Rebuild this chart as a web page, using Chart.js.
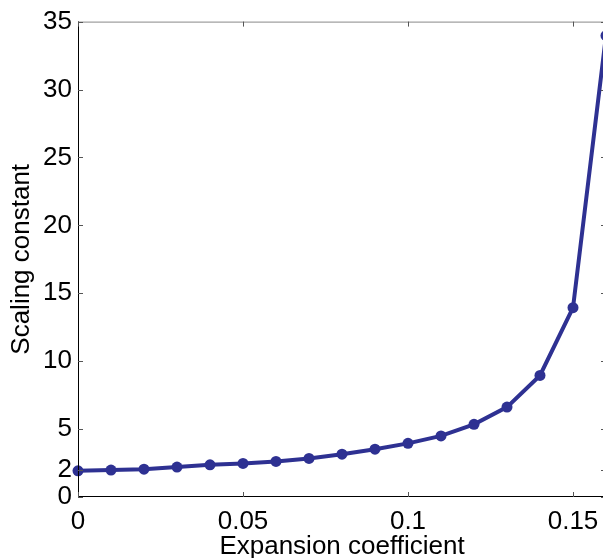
<!DOCTYPE html>
<html><head><meta charset="utf-8">
<script src="https://cdn.jsdelivr.net/npm/chart.js@4/dist/chart.umd.min.js"></script>
<style>html,body{margin:0;padding:0;overflow:hidden;background:#fff;width:603px;height:558px}
#wrap{position:absolute;left:0;top:0;width:612px;height:572px}</style>
</head><body><div id="wrap"><canvas id="c" width="612" height="572"></canvas></div>
<script>
const xValues = [0,0.01,0.02,0.03,0.04,0.05,0.06,0.07,0.08,0.09,0.1,0.11,0.12,0.13,0.14,0.15,0.16];
const yValues = [1.93,1.98,2.05,2.2,2.37,2.47,2.62,2.84,3.15,3.52,3.95,4.5,5.35,6.62,8.95,13.94,33.97];
const xTicks = [0,0.05,0.1,0.15];
const xTickLabels = ['0','0.05','0.1','0.15'];
const yTicks = [0,2,5,10,15,20,25,30,35];
const FONT = 'Liberation Sans, Arial, Helvetica, sans-serif';

const frame = {
  id:'frame',
  afterDraw(chart){
    const {ctx, chartArea:a, scales:{x,y}} = chart;
    ctx.save();
    ctx.lineWidth = 1;
    ctx.strokeStyle = '#888';
    ctx.beginPath();
    ctx.moveTo(a.left, a.top+0.5); ctx.lineTo(a.right, a.top+0.5);
    ctx.moveTo(a.right-0.5, a.top); ctx.lineTo(a.right-0.5, a.bottom);
    ctx.stroke();
    ctx.strokeStyle = '#000';
    ctx.beginPath();
    ctx.moveTo(a.left+0.5, a.top); ctx.lineTo(a.left+0.5, a.bottom);
    ctx.moveTo(a.left, a.bottom-0.5); ctx.lineTo(a.right, a.bottom-0.5);
    ctx.stroke();
    ctx.strokeStyle = '#555';
    ctx.beginPath();
    const L = 5;
    yTicks.forEach(v=>{
      const py = Math.round(y.getPixelForValue(v))+0.5;
      ctx.moveTo(a.left, py); ctx.lineTo(a.left+L, py);
      ctx.moveTo(a.right, py); ctx.lineTo(a.right-L, py);
    });
    xTicks.forEach(v=>{
      const px = Math.round(x.getPixelForValue(v))+0.5;
      ctx.moveTo(px, a.bottom); ctx.lineTo(px, a.bottom-L);
      ctx.moveTo(px, a.top); ctx.lineTo(px, a.top+L);
    });
    ctx.stroke();
    ctx.restore();
  }
};

new Chart(document.getElementById('c'), {
  type:'line',
  data:{datasets:[{
    data: xValues.map((v,i)=>({x:v,y:yValues[i]})),
    borderColor:'#2E3192', backgroundColor:'#2E3192',
    borderWidth:4, pointRadius:5.5, pointBackgroundColor:'#2E3192',
    pointBorderWidth:0, tension:0, clip:false
  }]},
  options:{
    responsive:false, animation:false,
    layout:{padding:{top:20,right:6,left:0,bottom:10}},
    plugins:{legend:{display:false},tooltip:{enabled:false}},
    scales:{
      x:{type:'linear',min:0,max:0.16,
        afterBuildTicks(s){s.ticks = xTicks.map(v=>({value:v}));},
        afterFit(s){s.height = 65;},
        grid:{display:false,drawTicks:false},
        border:{display:false},
        ticks:{color:'#000',font:{family:FONT,size:26},padding:9,autoSkip:false,maxRotation:0,
          callback(v){const i = xTicks.indexOf(v); return i>=0 ? xTickLabels[i] : '';}},
        title:{display:true,text:'Expansion coefficient',color:'#000',font:{family:FONT,size:26},padding:{top:0,bottom:0}}
      },
      y:{type:'linear',min:0,max:35,
        afterBuildTicks(s){s.ticks = yTicks.map(v=>({value:v}));},
        afterFit(s){s.width = 78;},
        grid:{display:false,drawTicks:false},
        border:{display:false},
        ticks:{color:'#000',font:{family:FONT,size:26},padding:6,autoSkip:false},
        title:{display:true,text:'Scaling constant',color:'#000',font:{family:FONT,size:26},padding:{top:6,bottom:4}}
      }
    }
  },
  plugins:[frame]
});
</script></body></html>
